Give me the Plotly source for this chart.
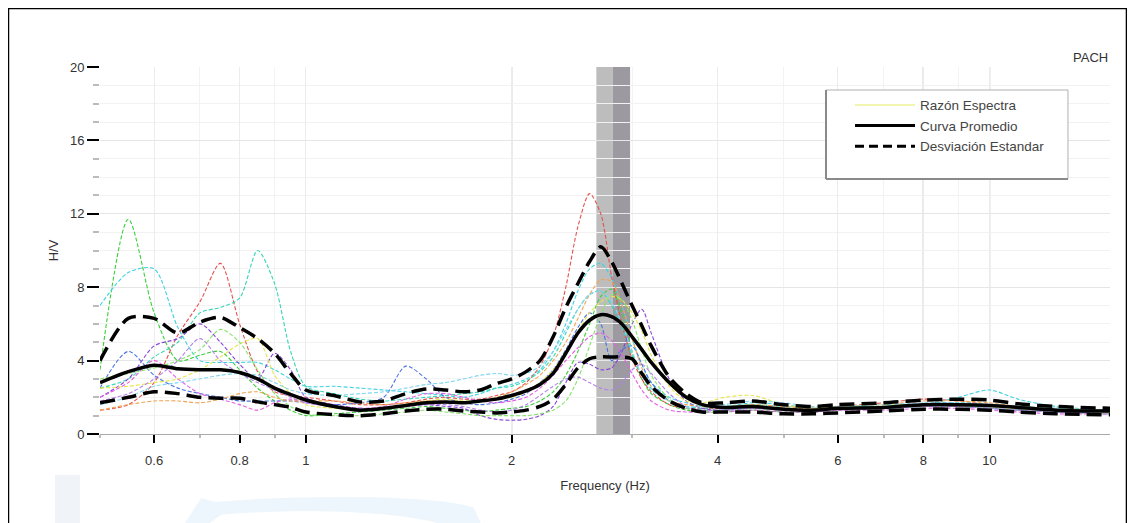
import plotly.graph_objects as go

FREQ = [0.5, 0.55, 0.6, 0.65, 0.7, 0.75, 0.8, 0.85, 0.9, 0.95,
        1.0, 1.1, 1.2, 1.3, 1.4, 1.5, 1.6, 1.7, 1.8, 1.9,
        2.0, 2.1, 2.2, 2.3, 2.4, 2.5, 2.6, 2.7, 2.8, 2.9,
        3.0, 3.1, 3.2, 3.4, 3.6, 3.8, 4.1, 4.5, 5.0, 5.5,
        6.0, 7.0, 8.0, 9.0, 10.0, 11.0, 12.5, 15.0]

MEAN = [2.8, 3.4, 3.75, 3.55, 3.5, 3.5, 3.35, 3.0, 2.5, 2.15,
        1.85, 1.5, 1.3, 1.4, 1.55, 1.7, 1.75, 1.7, 1.8, 1.9,
        2.1, 2.35, 2.7, 3.3, 4.4, 5.5, 6.2, 6.5, 6.4, 6.0,
        5.3, 4.6, 3.9, 2.8, 2.0, 1.6, 1.45, 1.5, 1.35, 1.3,
        1.4, 1.45, 1.6, 1.6, 1.55, 1.45, 1.3, 1.25]
STD_UP = [4.0, 6.3, 6.3, 5.5, 6.1, 6.35, 5.8, 5.2, 4.4, 3.3,
          2.4, 2.1, 1.75, 1.8, 2.2, 2.45, 2.4, 2.3, 2.4, 2.75,
          3.0, 3.4, 4.0, 5.3, 6.9, 8.2, 9.4, 10.2, 9.4, 8.2,
          7.0, 5.9, 4.8, 3.1, 2.2, 1.7, 1.7, 1.8, 1.6, 1.5,
          1.6, 1.7, 1.85, 1.9, 1.85, 1.65, 1.5, 1.4]
STD_LOW = [1.7, 2.0, 2.3, 2.2, 2.0, 1.95, 1.95, 1.75, 1.6, 1.45,
           1.2, 1.05, 1.0, 1.1, 1.25, 1.35, 1.35, 1.25, 1.2, 1.15,
           1.2, 1.3, 1.5, 1.9, 2.7, 3.6, 4.1, 4.2, 4.2, 4.2,
           4.1, 3.3, 2.6, 1.8, 1.4, 1.2, 1.2, 1.2, 1.1, 1.1,
           1.15, 1.25, 1.35, 1.35, 1.3, 1.2, 1.1, 1.05]

W_GREEN = [3.5, 11.7, 6.6, 4.0, 4.3, 4.5, 3.5, 2.5, 1.8, 1.3,
           1.0, 1.1, 1.2, 1.3, 1.4, 1.5, 1.4, 1.3, 1.2, 1.3,
           1.4, 1.5, 1.8, 2.3, 3.2, 4.5, 6.0, 7.5, 7.9, 6.5,
           4.5, 3.0, 2.2, 1.6, 1.3, 1.2, 1.2, 1.3, 1.2, 1.2,
           1.3, 1.4, 1.5, 1.5, 1.5, 1.4, 1.3, 1.2]
W_CYAN = [7.0, 8.8, 9.0, 5.8, 4.0, 3.9, 3.9, 3.9, 3.5, 3.0,
          2.6, 2.6, 2.5, 2.4, 2.3, 2.2, 2.1, 2.0, 2.2, 2.5,
          2.7, 3.0, 3.5, 4.5, 6.0, 7.8, 9.0, 9.3, 8.5, 7.0,
          5.2, 3.8, 2.8, 2.0, 1.7, 1.5, 1.5, 1.7, 1.6, 1.4,
          1.5, 1.5, 1.6, 2.0, 2.4, 1.9, 1.5, 1.3]
W_RED = [1.3, 1.6, 2.8, 5.4, 7.2, 9.3, 6.0, 3.4, 2.3, 2.1,
         2.0, 1.8, 1.6, 1.6, 1.7, 1.9, 2.0, 1.9, 1.9, 2.1,
         2.3, 2.8, 3.7, 5.3, 8.0, 11.3, 13.1, 12.0, 8.6, 6.0,
         4.1, 3.0, 2.3, 1.6, 1.4, 1.4, 1.4, 1.5, 1.4, 1.4,
         1.5, 1.7, 1.9, 1.8, 1.6, 1.5, 1.3, 1.2]
W_TURQ = [2.5, 3.0, 4.2, 5.0, 6.6, 6.9, 7.4, 10.0, 8.2, 4.5,
          2.6, 2.2, 1.9, 1.8, 1.9, 2.0, 2.1, 2.2, 2.3, 2.5,
          2.6, 2.9, 3.4, 4.2, 5.5, 6.8, 7.6, 7.8, 7.0, 5.8,
          4.3, 3.2, 2.5, 1.8, 1.5, 1.4, 1.5, 1.6, 1.5, 1.4,
          1.5, 1.5, 1.6, 1.7, 1.6, 1.5, 1.4, 1.3]
W_PURPLE = [2.0, 3.0, 4.8, 5.2, 6.0, 5.0, 3.8, 3.0, 4.4, 3.5,
            2.0, 1.6, 1.4, 1.4, 1.5, 1.6, 1.5, 1.4, 1.0, 0.8,
            0.75, 0.8, 1.0, 1.5, 2.8, 3.9, 3.8, 3.5, 3.6, 4.5,
            6.0, 6.8, 5.5, 3.0, 1.8, 1.4, 1.3, 1.4, 1.3, 1.2,
            1.3, 1.4, 1.5, 1.5, 1.4, 1.3, 1.2, 1.1]
W_BLUE = [2.5, 4.5, 3.2, 2.5, 2.2, 2.0, 1.8, 1.8, 1.8, 1.8,
          1.7, 1.6, 1.7, 2.0, 3.7, 3.0, 2.0, 1.7, 1.6, 1.7,
          1.9, 2.2, 2.8, 3.5, 4.6, 5.8, 6.6, 6.0, 4.0, 4.6,
          4.8, 3.8, 2.8, 1.8, 1.4, 1.3, 1.3, 1.4, 1.3, 1.3,
          1.4, 1.4, 1.5, 1.5, 1.4, 1.3, 1.2, 1.1]
W_MAGENTA = [2.0, 2.8, 4.0, 3.0, 2.2, 1.9, 1.6, 1.3, 1.7, 1.9,
             1.7, 1.5, 1.4, 1.5, 1.9, 2.2, 2.2, 2.0, 1.8, 1.7,
             1.8, 2.0, 2.5, 3.2, 4.0, 4.7, 5.3, 5.5, 5.1, 4.3,
             3.3, 2.4, 1.8, 1.3, 1.2, 1.2, 1.2, 1.3, 1.2, 1.2,
             1.3, 1.3, 1.4, 1.4, 1.3, 1.2, 1.1, 1.1]
W_YELLOW = [2.5, 2.6, 2.8, 3.0, 3.5, 4.2, 4.9, 5.2, 3.2, 2.2,
            1.6, 1.4, 1.3, 1.4, 1.6, 1.8, 1.9, 1.8, 1.8, 1.9,
            2.0, 2.3, 2.8, 3.5, 4.5, 5.6, 6.6, 7.2, 7.5, 7.3,
            6.6, 5.6, 4.3, 2.6, 1.8, 1.7, 2.0, 2.1, 1.6, 1.4,
            1.5, 1.6, 1.6, 1.6, 1.5, 1.4, 1.3, 1.2]
W_ORANGE = [1.3, 1.6, 1.8, 1.8, 1.7, 1.9, 2.2, 2.3, 2.0, 1.8,
            1.8, 1.8, 1.7, 1.6, 1.7, 1.8, 1.8, 1.7, 1.8, 2.0,
            2.3, 2.7, 3.2, 4.0, 5.0, 6.3, 7.6, 8.4, 8.3, 7.0,
            5.2, 3.6, 2.6, 1.8, 1.6, 1.5, 1.5, 1.6, 1.5, 1.4,
            1.5, 1.6, 1.8, 1.8, 1.7, 1.5, 1.4, 1.3]
W_LIGHTGREEN = [3.0, 3.3, 3.6, 4.0, 4.6, 5.7, 5.0, 3.5, 2.2, 1.5,
                1.1, 1.0, 1.0, 1.1, 1.2, 1.3, 1.2, 1.1, 1.0, 1.0,
                1.0, 1.0, 1.1, 1.3, 1.8, 3.0, 4.8, 6.5, 7.6, 7.3,
                6.2, 4.6, 3.2, 1.9, 1.4, 1.3, 1.3, 1.4, 1.3, 1.3,
                1.4, 1.4, 1.5, 1.5, 1.4, 1.3, 1.2, 1.1]
W_VIOLET = [1.8, 2.2, 3.0, 4.0, 5.2, 4.0, 3.3, 2.8, 2.4, 2.0,
            1.7, 1.5, 1.4, 1.4, 1.5, 1.6, 1.6, 1.5, 1.3, 1.2,
            1.3, 1.6, 2.1, 2.6, 3.0, 3.1, 2.8, 2.5, 2.4, 2.8,
            3.5, 3.8, 3.3, 2.2, 1.5, 1.3, 1.3, 1.4, 1.3, 1.3,
            1.4, 1.4, 1.5, 1.5, 1.4, 1.3, 1.2, 1.1]
W_LIGHTCYAN = [1.6, 2.0, 2.6, 2.8, 3.0, 3.2, 3.3, 3.2, 2.8, 2.4,
               2.2, 2.1, 2.2, 2.3, 2.5, 2.7, 2.8, 3.0, 3.2, 3.3,
               3.2, 3.3, 3.7, 4.5, 5.7, 6.8, 7.6, 7.8, 7.2, 6.0,
               4.5, 3.2, 2.4, 1.8, 1.5, 1.5, 1.6, 1.8, 1.7, 1.5,
               1.5, 1.6, 1.7, 1.7, 1.6, 1.5, 1.4, 1.3]

WINDOWS = [W_GREEN, W_CYAN, W_RED, W_TURQ, W_PURPLE, W_BLUE,
           W_MAGENTA, W_YELLOW, W_ORANGE, W_LIGHTGREEN, W_VIOLET, W_LIGHTCYAN]
WINDOW_COLORS = ["#3ccf3c", "#3fd2e0", "#e5524c", "#35d6b4", "#8a44d8", "#4a72e2",
                 "#e461e4", "#e6e64e", "#f0a452", "#86e46e", "#b483ea", "#7fd6f2"]

X_TICKS = [0.6, 0.8, 1, 2, 4, 6, 8, 10]
X_TICK_TEXT = ["0.6", "0.8", "1", "2", "4", "6", "8", "10"]
Y_TICKS = [0, 4, 8, 12, 16, 20]
REF_LINES = [2, 8, 10]
BAND_LIGHT = [2.66, 2.81]
BAND_DARK = [2.81, 2.98]

fig = go.Figure()

for vals, col in zip(WINDOWS, WINDOW_COLORS):
    fig.add_trace(go.Scatter(x=FREQ, y=vals, mode="lines", showlegend=False,
                             line=dict(color=col, width=1.1, dash="4px,2px", shape="spline", smoothing=0.8),
                             hoverinfo="skip"))

fig.add_trace(go.Scatter(x=FREQ, y=STD_UP, mode="lines", showlegend=False,
                         line=dict(color="black", width=3.5, dash="15px,7px", shape="spline", smoothing=0.8)))
fig.add_trace(go.Scatter(x=FREQ, y=STD_LOW, mode="lines", showlegend=False,
                         line=dict(color="black", width=3.5, dash="15px,7px", shape="spline", smoothing=0.8)))
fig.add_trace(go.Scatter(x=FREQ, y=MEAN, mode="lines", showlegend=False,
                         line=dict(color="black", width=3.5, shape="spline", smoothing=0.8)))

# legend-only entries
fig.add_trace(go.Scatter(x=[None], y=[None], mode="lines", name="Razón Espectra",
                         line=dict(color="#f0f6b0", width=2)))
fig.add_trace(go.Scatter(x=[None], y=[None], mode="lines", name="Curva Promedio",
                         line=dict(color="black", width=3)))
fig.add_trace(go.Scatter(x=[None], y=[None], mode="lines", name="Desviación Estandar",
                         line=dict(color="black", width=3, dash="9px,5px")))

shapes = []
shapes.append(dict(type="rect", xref="x", yref="paper", x0=BAND_LIGHT[0], x1=BAND_LIGHT[1],
                   y0=0, y1=1, fillcolor="#bdbdbd", line=dict(width=0), layer="below"))
shapes.append(dict(type="rect", xref="x", yref="paper", x0=BAND_DARK[0], x1=BAND_DARK[1],
                   y0=0, y1=1, fillcolor="#9c9aa0", line=dict(width=0), layer="below"))
for xv in REF_LINES:
    shapes.append(dict(type="line", xref="x", yref="paper", x0=xv, x1=xv, y0=0, y1=1,
                       line=dict(color="#b4b4b4", width=1.2), layer="below"))
# legend box (drawn frame with darker left/bottom edges)
shapes.append(dict(type="rect", xref="paper", yref="paper", x0=0.7188, x1=0.9584,
                   y0=0.6948, y1=0.9373, fillcolor="white", line=dict(color="#b0b0b0", width=1)))
shapes.append(dict(type="line", xref="paper", yref="paper", x0=0.7188, x1=0.7188,
                   y0=0.6948, y1=0.9373, line=dict(color="#8a8a8a", width=2)))
shapes.append(dict(type="line", xref="paper", yref="paper", x0=0.7188, x1=0.9584,
                   y0=0.6948, y1=0.6948, line=dict(color="#8a8a8a", width=2)))
# faint background watermark
shapes.append(dict(type="rect", xref="paper", yref="paper", x0=-0.0446, x1=-0.0198,
                   y0=-0.26, y1=-0.1117, fillcolor="#f0f3f7", line=dict(width=0), layer="below"))
shapes.append(dict(type="path", xref="paper", yref="paper",
                   path="M 0.08,-0.26 L 0.1,-0.175 L 0.115,-0.185 C 0.2,-0.165 0.33,-0.165 0.37,-0.2 L 0.38,-0.26 L 0.35,-0.26 C 0.32,-0.21 0.2,-0.2 0.12,-0.22 L 0.1,-0.26 Z",
                   fillcolor="#edf6fc", line=dict(width=0), layer="below"))
# outer frame
shapes.append(dict(type="rect", xref="paper", yref="paper", x0=-0.0911, x1=1.0168,
                   y0=-0.3, y1=1.1608, line=dict(color="black", width=2.5), fillcolor="rgba(0,0,0,0)"))

fig.update_layout(
    width=1135, height=523,
    margin=dict(l=92, r=33, t=59, b=97),
    paper_bgcolor="white", plot_bgcolor="white",
    font=dict(family="Liberation Sans, Arial, sans-serif", size=13, color="#333333"),
    shapes=shapes,
    legend=dict(x=0.7426, y=0.938, xanchor="left", yanchor="top",
                bgcolor="rgba(0,0,0,0)", borderwidth=0,
                font=dict(size=13.5, color="#444444"), itemwidth=60,
                tracegroupgap=0),
    annotations=[dict(text="PACH", xref="paper", yref="paper", x=1.0, y=1.0,
                      xanchor="right", yanchor="bottom", showarrow=False,
                      font=dict(size=13, color="#333333"))],
)

fig.update_xaxes(type="log", range=[-0.30103, 1.17609],
                 tickvals=X_TICKS, ticktext=X_TICK_TEXT, ticklabelstandoff=6,
                 ticks="outside", ticklen=8, tickcolor="black", tickwidth=1.5,
                 showgrid=True, gridcolor="#ececec", gridwidth=1,
                 minor=dict(showgrid=True, gridcolor="#f3f3f3", ticks="outside", ticklen=3,
                            tickcolor="#bbbbbb", dtick="D1"),
                 showline=True, linecolor="#aaaaaa", linewidth=1,
                 title=dict(text="Frequency (Hz)", font=dict(size=13, color="#333333"), standoff=14),
                 zeroline=False)
fig.update_yaxes(range=[0, 20], tickvals=Y_TICKS,
                 ticks="outside", ticklen=12, tickcolor="black", tickwidth=1.5,
                 showgrid=True, gridcolor="#e6e6e6", gridwidth=1,
                 minor=dict(showgrid=True, gridcolor="#f2f2f2", dtick=1, ticks="outside",
                            ticklen=6, tickcolor="#bbbbbb"),
                 showline=False, zeroline=False,
                 title=dict(text="H/V", font=dict(size=13, color="#333333"), standoff=8))

fig.write_html("out.html")
